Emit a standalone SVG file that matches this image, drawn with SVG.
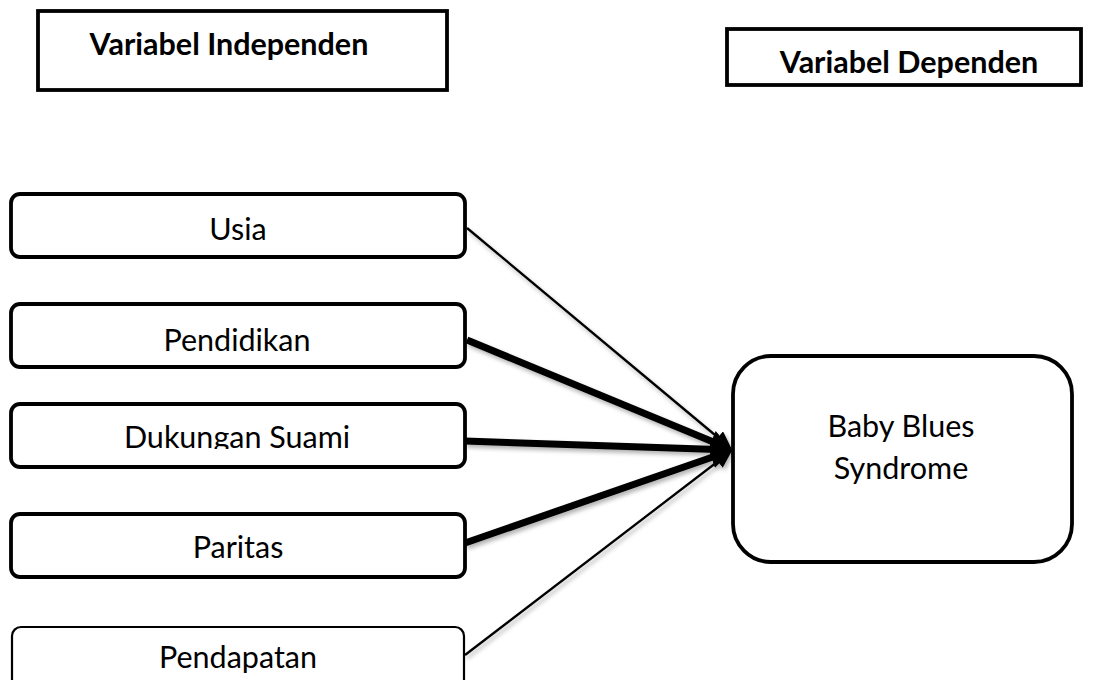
<svg xmlns="http://www.w3.org/2000/svg" width="1097" height="680" viewBox="0 0 1097 680">
<style>
.box{fill:#fff;stroke:#000;stroke-width:3.8}
.thinbox{fill:#fff;stroke:#000;stroke-width:2.2}
.hdr{font-family:Lato,"Open Sans",sans-serif;font-weight:bold;font-size:30.5px;fill:#000;text-anchor:middle}
.lbl{font-family:Lato,"Open Sans",sans-serif;font-size:30.5px;fill:#000;text-anchor:middle}
.thin{stroke:#000;stroke-width:2.3;fill:none}
.thick{stroke:#000;stroke-width:7;fill:none}
</style>
<defs>
<marker id="ahThick" markerUnits="userSpaceOnUse" markerWidth="24" markerHeight="22" refX="6" refY="11" orient="auto">
<path d="M0,0 L22,11 L0,22 z" fill="#000"/>
</marker>
<marker id="ahThin" markerUnits="userSpaceOnUse" markerWidth="20" markerHeight="16" refX="4" refY="8" orient="auto">
<path d="M0,0 L18,8 L0,16 z" fill="#000"/>
</marker>
<filter id="sh" x="-10%" y="-10%" width="130%" height="140%">
<feDropShadow dx="2" dy="3" stdDeviation="2" flood-color="#000" flood-opacity="0.3"/>
</filter>
<clipPath id="clipDuk"><rect x="0" y="380" width="470" height="69"/></clipPath>
<clipPath id="clipPend"><rect x="0" y="620" width="470" height="54"/></clipPath>
</defs>

<g id="header-independen">
<rect class="box" x="38" y="11" width="409" height="79"/>
<text class="hdr" x="229" y="55">Variabel Independen</text>
</g>
<g id="header-dependen">
<rect class="box" x="727" y="29" width="354" height="56"/>
<text class="hdr" x="909" y="73">Variabel Dependen</text>
</g>

<g id="connectors" filter="url(#sh)">
<line class="thin" x1="467" y1="228" x2="721" y2="440" marker-end="url(#ahThin)"/>
<line class="thick" x1="467" y1="340" x2="717" y2="443.5" marker-end="url(#ahThick)"/>
<line class="thick" x1="465" y1="441" x2="717" y2="449.5" marker-end="url(#ahThick)"/>
<line class="thick" x1="465" y1="543" x2="717" y2="455.5" marker-end="url(#ahThick)"/>
<line class="thin" x1="465" y1="655" x2="721" y2="459" marker-end="url(#ahThin)"/>
</g>

<g id="node-usia">
<rect class="box" x="11" y="194" width="454" height="63" rx="9"/>
<text class="lbl" x="238" y="240">Usia</text>
</g>
<g id="node-pendidikan">
<rect class="box" x="11" y="304" width="454" height="63" rx="9"/>
<text class="lbl" x="237" y="351">Pendidikan</text>
</g>
<g id="node-dukungan">
<rect class="box" x="11" y="404" width="454" height="63" rx="9"/>
<text class="lbl" x="237" y="448" clip-path="url(#clipDuk)">Dukungan Suami</text>
</g>
<g id="node-paritas">
<rect class="box" x="11" y="514" width="454" height="63" rx="9"/>
<text class="lbl" x="238" y="558">Paritas</text>
</g>
<g id="node-pendapatan">
<rect class="thinbox" x="12" y="627" width="452" height="70" rx="9"/>
<text class="lbl" x="238" y="668" clip-path="url(#clipPend)">Pendapatan</text>
</g>
<g id="node-baby-blues">
<rect class="box" x="733" y="356" width="339" height="206" rx="38"/>
<text class="lbl" x="901" y="437">Baby Blues</text>
<text class="lbl" x="901" y="479">Syndrome</text>
</g>
</svg>
